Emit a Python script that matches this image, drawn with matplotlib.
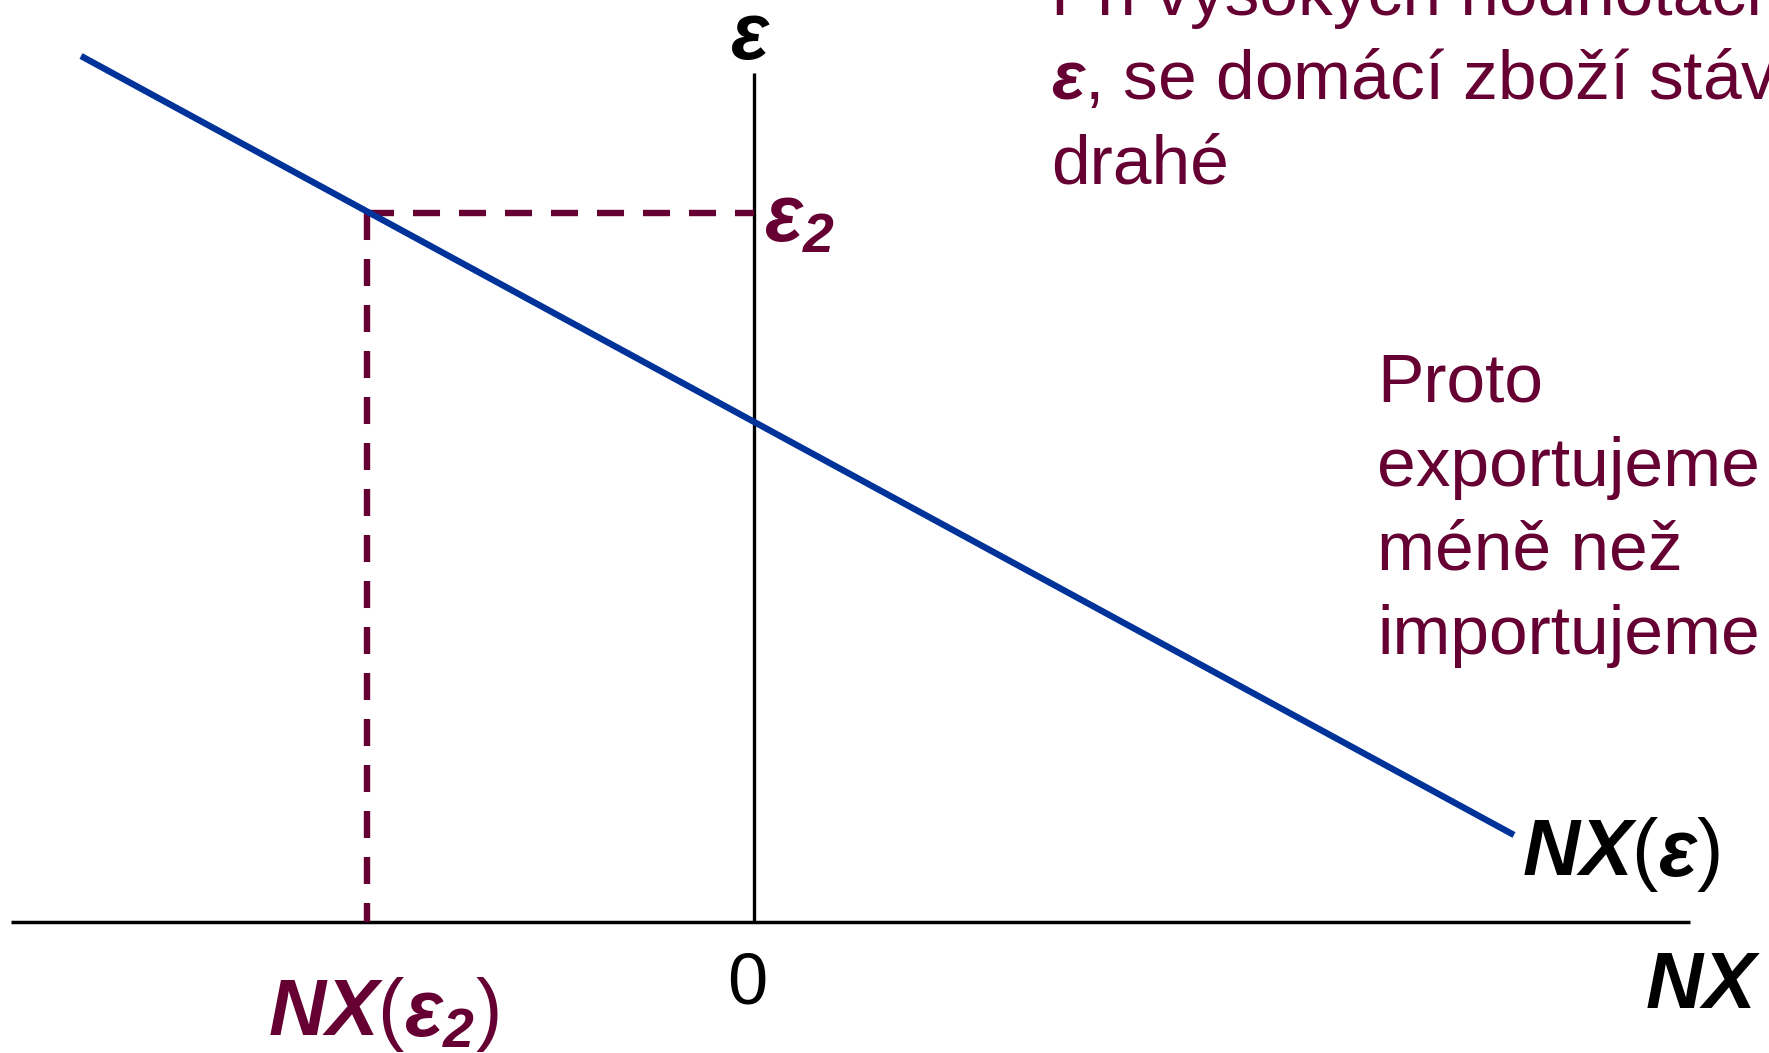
import matplotlib
matplotlib.use('Agg')
import matplotlib.pyplot as plt

# NX(eps) curve, in chart units (origin at NX = 0, eps = 0)
nx_line = [-6.73, 7.60]
eps_line = [8.66, 0.87]

# the marked point eps_2 and NX(eps_2)
eps2 = 7.09
nx_eps2 = -3.87

# extent of the drawn axes
x_axis = [-7.43, 9.36]
y_axis_top = 8.49

top_text = ['Při vysokých hodnotách',
            r'$\mathbf{ε}$, se domácí zboží stává',
            'drahé']
side_text = ['Proto', 'exportujeme', 'méně než', 'importujeme']

maroon = '#660033'
blue = '#003399'

plt.rcParams['font.family'] = ['Liberation Sans', 'DejaVu Sans']
plt.rcParams['mathtext.fontset'] = 'custom'
plt.rcParams['mathtext.rm'] = 'Liberation Sans'
plt.rcParams['mathtext.it'] = 'Liberation Sans:bold:italic'
plt.rcParams['mathtext.bf'] = 'Liberation Sans:bold:italic'

fig = plt.figure(figsize=(17.69, 10.53), dpi=100)
ax = fig.add_axes([0, 0, 1, 1])
ax.set_xlim(-7.54, 10.15)
ax.set_ylim(-1.31, 9.22)
ax.axis('off')

# axes
ax.plot(x_axis, [0, 0], color='black', lw=2.5, solid_capstyle='butt')
ax.plot([0, 0], [0, y_axis_top], color='black', lw=2.4, solid_capstyle='butt')

# dashed guides
dash = (0, (4.23, 2.97))
ax.plot([nx_eps2, 0], [eps2, eps2], color=maroon, lw=4.6, ls=dash)
ax.plot([nx_eps2, nx_eps2], [eps2, 0], color=maroon, lw=4.6, ls=dash)

# NX curve
ax.plot(nx_line, eps_line, color=blue, lw=4.6, solid_capstyle='butt')

# labels
ax.text(-0.24, 8.64, r'$\mathbf{ε}$', fontsize=57, color='black', va='baseline')
ax.text(0.10, 6.82, r'$\mathbf{ε_2}$', fontsize=57, color=maroon, va='baseline')
ax.text(7.68, 0.47, r'$\mathbf{NX}\mathrm{(}\mathbf{ε}\mathrm{)}$', fontsize=57,
        color='black', va='baseline')
ax.text(8.91, -0.86, r'$\mathbf{NX}$', fontsize=57, color='black', va='baseline')
ax.text(-0.07, -0.82, '0', fontsize=52, color='black', ha='center', va='baseline')
ax.text(-4.86, -1.13, r'$\mathbf{NX}\mathrm{(}\mathbf{ε_2}\mathrm{)}$', fontsize=57,
        color=maroon, va='baseline')

for i, line in enumerate(top_text):
    ax.text(2.97, 9.07 - 0.84 * i, line, fontsize=50, color=maroon, va='baseline')

for i, line in enumerate(side_text):
    ax.text(6.23, 5.20 - 0.84 * i, line, fontsize=50, color=maroon, va='baseline')

fig.savefig('out.png', dpi=100)
